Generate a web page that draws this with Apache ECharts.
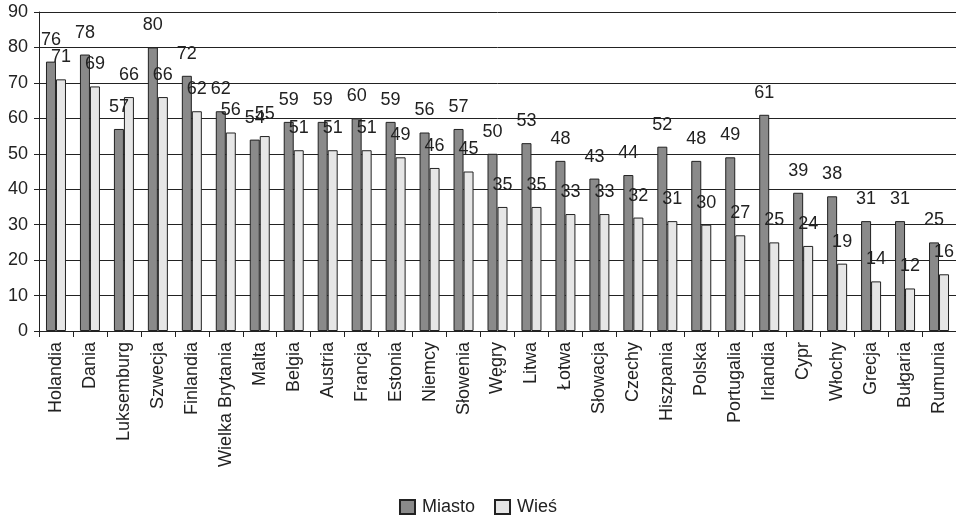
<!DOCTYPE html>
<html><head><meta charset="utf-8">
<script src="https://cdn.jsdelivr.net/npm/echarts@6/dist/echarts.min.js"></script>
<style>html,body{margin:0;padding:0;background:#fff}#c{width:956px;height:519px}</style>
</head><body><div id="c"></div>
<script>
const categories = ["Holandia","Dania","Luksemburg","Szwecja","Finlandia","Wielka Brytania","Malta","Belgia","Austria","Francja","Estonia","Niemcy","Słowenia","Węgry","Litwa","Łotwa","Słowacja","Czechy","Hiszpania","Polska","Portugalia","Irlandia","Cypr","Włochy","Grecja","Bułgaria","Rumunia"];
const miasto = [76,78,57,80,72,62,54,59,59,60,59,56,57,50,53,48,43,44,52,48,49,61,39,38,31,31,25];
const wies = [71,69,66,66,62,56,55,51,51,51,49,46,45,35,35,33,33,32,31,30,27,25,24,19,14,12,16];
const yTicks = {min:0, max:90, interval:10};

const chart = echarts.init(document.getElementById('c'), null, {renderer:'canvas'});
const font = 'Liberation Sans, Arial, sans-serif';
const lbl = {show:true, position:'top', distance:13, color:'#222', fontSize:18, fontFamily:font};
chart.setOption({
  animation:false,
  textStyle:{fontFamily:font},
  grid:{left:39, right:0, top:12, bottom:188, containLabel:false},
  legend:{top:493, left:'center', itemWidth:15, itemHeight:14, itemGap:19,
    textStyle:{fontSize:18, color:'#222', fontFamily:font, padding:[0,0,0,2]},
    data:[{name:'Miasto', icon:'rect'},{name:'Wieś', icon:'rect'}]},
  xAxis:{type:'category', data:categories,
    axisLine:{lineStyle:{color:'#222', width:1}},
    axisTick:{show:true, length:6, lineStyle:{color:'#222'}},
    axisLabel:{rotate:90, fontSize:18, color:'#222', margin:11, interval:0, fontFamily:font}},
  yAxis:{type:'value', min:yTicks.min, max:yTicks.max, interval:yTicks.interval,
    axisLine:{show:true, lineStyle:{color:'#222'}},
    axisTick:{show:true, length:5, lineStyle:{color:'#222'}},
    axisLabel:{fontSize:18, color:'#222', margin:11, fontFamily:font},
    splitLine:{lineStyle:{color:'#222', width:1}}},
  series:[
    {name:'Miasto', type:'bar', data:miasto, barWidth:10, barGap:'0%',
      itemStyle:{color:'#8a8a8a', borderColor:'#222', borderWidth:1}, label:lbl},
    {name:'Wieś', type:'bar', data:wies, barWidth:10,
      itemStyle:{color:'#e6e6e6', borderColor:'#222', borderWidth:1}, label:lbl}
  ]
});
</script></body></html>
